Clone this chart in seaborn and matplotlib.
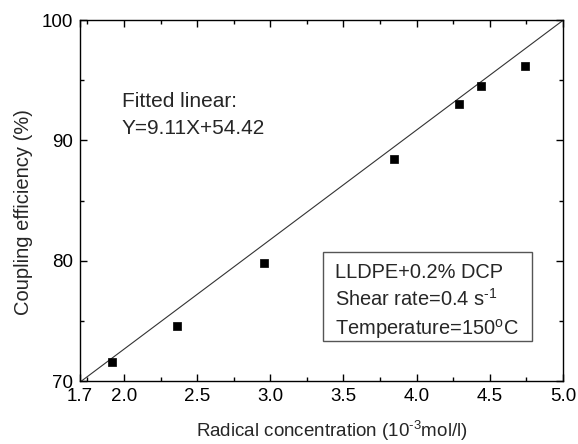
import matplotlib
matplotlib.use("Agg")
import matplotlib.pyplot as plt
from matplotlib.patches import Rectangle
from matplotlib.ticker import FixedLocator, MultipleLocator
import seaborn as sns
import pandas as pd

# Measured coupling efficiency vs. radical concentration
radical_conc = [1.92, 2.366, 2.954, 3.847, 4.292, 4.44, 4.738]
coupling_eff = [71.6, 74.6, 79.8, 88.45, 93.0, 94.5, 96.2]

# Linear fit reported on the chart
fit_slope = 9.11
fit_intercept = 54.42
fit_range = [1.7, 5.0]

x_ticks = [1.7, 2.0, 2.5, 3.0, 3.5, 4.0, 4.5, 5.0]
x_tick_labels = ["1.7", "2.0", "2.5", "3.0", "3.5", "4.0", "4.5", "5.0"]
y_ticks = [70, 80, 90, 100]

sns.set_theme(style="ticks")
plt.rcParams["font.family"] = ["Liberation Sans", "DejaVu Sans"]
plt.rcParams["mathtext.fontset"] = "custom"
plt.rcParams["mathtext.rm"] = "Liberation Sans"
plt.rcParams["mathtext.it"] = "Liberation Sans:italic"

points = pd.DataFrame({"x": radical_conc, "y": coupling_eff})
fit = pd.DataFrame({"x": fit_range,
                    "y": [fit_slope * v + fit_intercept for v in fit_range]})

fig = plt.figure(figsize=(5.78, 4.44), dpi=100)
ax = fig.add_axes([80 / 578, 1 - 381 / 444, 483 / 578, 361 / 444])

sns.lineplot(data=fit, x="x", y="y", ax=ax, color="#333333", linewidth=0.8)
sns.scatterplot(data=points, x="x", y="y", ax=ax, marker="s", s=38,
                color="black", edgecolor="black", linewidth=0.5, zorder=3)

ax.set_xlim(1.7, 5.0)
ax.set_ylim(70, 100)
ax.xaxis.set_major_locator(FixedLocator(x_ticks))
ax.set_xticklabels(x_tick_labels)
ax.xaxis.set_minor_locator(FixedLocator([1.75, 2.25, 2.75, 3.25, 3.75, 4.25, 4.75]))
ax.yaxis.set_major_locator(FixedLocator(y_ticks))
ax.yaxis.set_minor_locator(MultipleLocator(5))

ax.tick_params(which="both", direction="in", top=True, right=True,
               colors="black", labelsize=13.5, width=1.0)
ax.tick_params(which="major", length=5, pad=5)
ax.tick_params(which="minor", length=3)
for sp in ax.spines.values():
    sp.set_visible(True)
    sp.set_color("black")
    sp.set_linewidth(1.0)

ax.set_xlabel("Radical concentration (10$^{\\text{-3}}$mol/l)", fontsize=13.5, labelpad=10)
ax.set_ylabel("Coupling efficiency (%)", fontsize=14.5, labelpad=6)
ax.xaxis.label.set_x(0.5 + 10 / 483)
ax.yaxis.label.set_y(0.5 - 12 / 361)

ax.text(1.984, 92.8, "Fitted linear:", fontsize=15, va="baseline", ha="left")
ax.text(1.984, 90.5, "Y=9.11X+54.42", fontsize=15, va="baseline", ha="left")

ax.add_patch(Rectangle((3.359, 73.33), 4.790 - 3.359, 80.75 - 73.33,
                       fill=False, edgecolor="#555555", linewidth=1.0, zorder=2))
box_x = 3.445
ax.text(box_x, 78.58, "LLDPE+0.2% DCP", fontsize=14.4, va="baseline")
ax.text(box_x, 76.23, "Shear rate=0.4 s$^{\\text{-1}}$", fontsize=14.4, va="baseline")
ax.text(box_x, 73.88, "Temperature=150$^{\\mathrm{o}}$C", fontsize=14.4, va="baseline")

fig.savefig("out.png", dpi=100, facecolor="white")
